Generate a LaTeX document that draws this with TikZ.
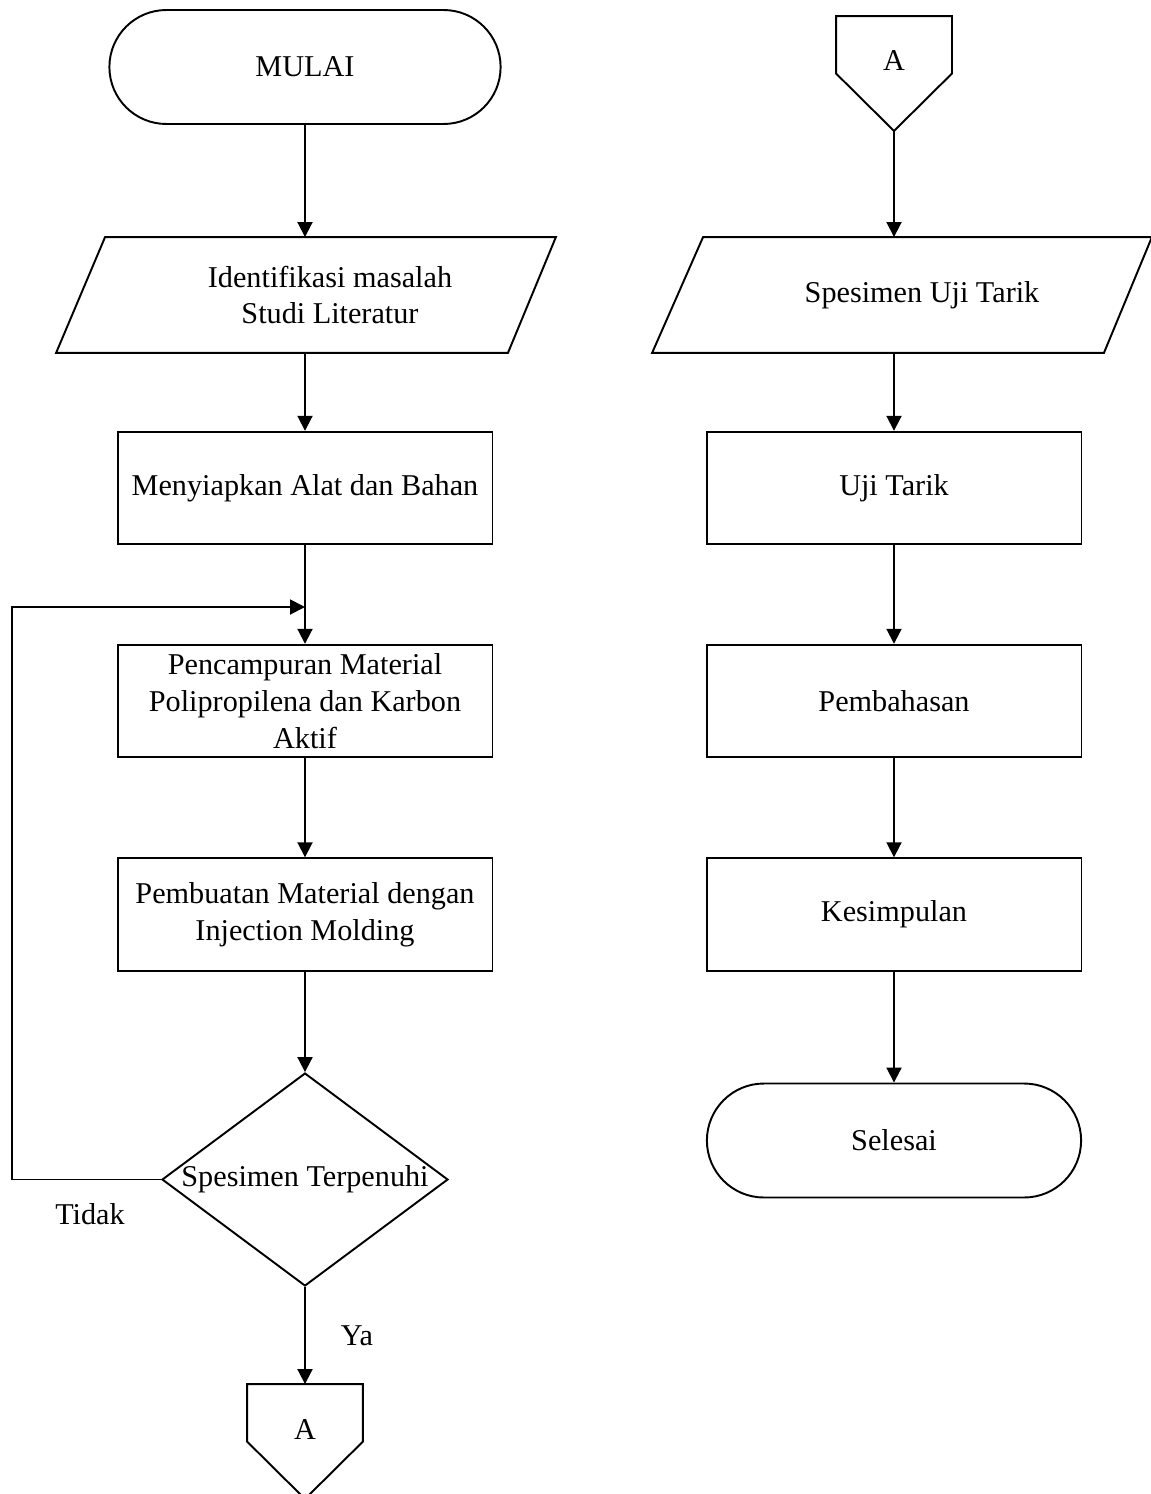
\documentclass[tikz,border=0pt]{standalone}
\usepackage{fontspec}
\setmainfont{Liberation Serif}
\usetikzlibrary{positioning,shapes.geometric,shapes.misc,arrows.meta,calc}

\begin{document}
\begin{tikzpicture}[x=0.02cm, y=-0.02cm,
  every node/.style={font=\fontsize{17.2}{21}\selectfont},
  every text node part/.style={align=center},
  line width=1.1pt, >={Triangle[length=0.3cm,width=0.3cm]},
  terminal/.style={draw, rounded rectangle, minimum height=2.28cm},
  process/.style={draw, shape=rectangle, minimum width=7.5cm, minimum height=2.25cm},
  inout/.style={draw=none, shape=rectangle, minimum width=9.96cm, minimum height=2.28cm, inner sep=0pt},
  decision/.style={draw, diamond, minimum width=5.72cm, minimum height=4.26cm, inner sep=0pt},
  offpage/.style={draw=none, minimum width=2.28cm, minimum height=2.26cm, inner sep=0pt}]
  \useasboundingbox (0,0) rectangle (1151,1494);
  % left column
  \node (mulai) [terminal, minimum width=8.06cm] at (305,67) {MULAI};
  \node (input1) [inout, label={[align=center,xshift=0.48cm]center:Identifikasi masalah\\Studi Literatur}] at (306,295) {};
  \draw ($(input1.north west)+(49,0)$) -- (input1.north east) -- ($(input1.south east)+(-48,0)$) -- (input1.south west) -- cycle;
  \node (siap) [process] at (305,488) {Menyiapkan Alat dan Bahan};
  \node (campur) [process] at (305,701) {Pencampuran Material\\Polipropilena dan Karbon\\Aktif};
  \node (buat) [process] at (305,914.5) {Pembuatan Material dengan\\Injection Molding};
  \node (cek) [decision, label={center:Spesimen Terpenuhi}] at (305,1179.5) {};
  \node (tidak) at (90,1214) {Tidak};
  \node (ya) at (357,1336) {Ya};
  \node (konA) [offpage, label={[yshift=0.24cm]center:A}] at (305,1441.5) {};
  \draw (konA.north west) -- (konA.north east) -- (konA.east) -- (konA.south) -- (konA.west) -- cycle;
  \coordinate (balik) at (12,607);
  \draw[->] (mulai.south) -- (mulai.south |- input1.north);
  \draw[->] (siap.north |- input1.south) -- (siap.north);
  \draw[->] (siap.south) -- (campur.north);
  \draw[->] (cek.west) -| (balik) -- (balik -| campur.north);
  \draw[->] (campur.south) -- (buat.north);
  \draw[->] (buat.south) -- (cek.north);
  \draw[->] (cek.south) -- (konA.north);
  % right column
  \node (konB) [offpage, label={[yshift=0.26cm]center:A}] at (894,73.5) {};
  \draw (konB.north west) -- (konB.north east) -- (konB.east) -- (konB.south) -- (konB.west) -- cycle;
  \node (input2) [inout, label={[xshift=0.4cm]center:Spesimen Uji Tarik}] at (902,295) {};
  \draw ($(input2.north west)+(51,0)$) -- (input2.north east) -- ($(input2.south east)+(-48,0)$) -- (input2.south west) -- cycle;
  \node (tarik) [process] at (894,488) {Uji Tarik};
  \node (bahas) [process] at (894,701) {Pembahasan};
  \node (simpul) [process] at (894,914.5) {Kesimpulan};
  \node (selesai) [terminal, minimum width=7.72cm] at (894,1140.5) {Selesai};
  \draw[->] (konB.south) -- (konB.south |- input2.north);
  \draw[->] (tarik.north |- input2.south) -- (tarik.north);
  \draw[->] (tarik.south) -- (bahas.north);
  \draw[->] (bahas.south) -- (simpul.north);
  \draw[->] (simpul.south) -- (selesai.north);
\end{tikzpicture}
\end{document}
